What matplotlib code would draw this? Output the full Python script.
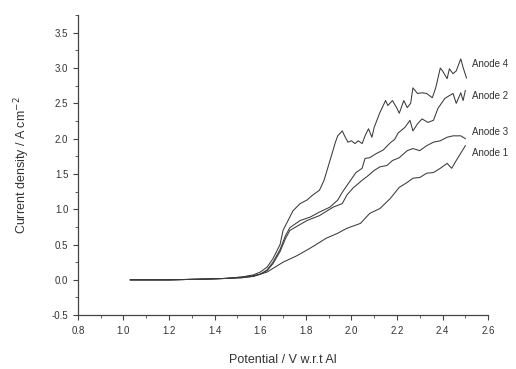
import matplotlib
matplotlib.use("Agg")
import matplotlib.pyplot as plt
from matplotlib.ticker import MultipleLocator

plt.rcParams['font.family'] = ['Liberation Sans', 'DejaVu Sans']

# Anode 1 (lowest curve)
a1_x = [1.03, 1.20, 1.35, 1.45, 1.52, 1.57, 1.60, 1.63, 1.66, 1.70, 1.76, 1.82, 1.89, 1.94,
        1.98, 2.04, 2.08, 2.125, 2.17, 2.21, 2.245, 2.27, 2.30, 2.33, 2.36, 2.39, 2.42,
        2.44, 2.46, 2.50]
a1_y = [0.00, 0.00, 0.01, 0.02, 0.04, 0.06, 0.08, 0.11, 0.17, 0.25, 0.34, 0.45, 0.59, 0.66,
        0.73, 0.80, 0.94, 1.01, 1.15, 1.31, 1.38, 1.44, 1.45, 1.51, 1.52, 1.58, 1.65,
        1.58, 1.69, 1.90]

# Anode 2
a2_x = [1.03, 1.20, 1.35, 1.45, 1.52, 1.57, 1.60, 1.63, 1.656, 1.687, 1.71, 1.73, 1.775, 1.82,
        1.86, 1.906, 1.94, 1.96, 1.99, 2.02, 2.047, 2.06, 2.08, 2.11, 2.14, 2.17, 2.19, 2.205,
        2.235, 2.257, 2.27, 2.29, 2.31, 2.336, 2.36, 2.38, 2.41, 2.43, 2.446, 2.46, 2.48,
        2.49, 2.50]
a2_y = [0.00, 0.00, 0.01, 0.02, 0.03, 0.05, 0.08, 0.14, 0.25, 0.43, 0.62, 0.74, 0.84, 0.89,
        0.96, 1.03, 1.13, 1.24, 1.38, 1.52, 1.58, 1.72, 1.73, 1.79, 1.84, 1.94, 1.99, 2.08,
        2.16, 2.26, 2.11, 2.21, 2.28, 2.23, 2.26, 2.43, 2.57, 2.61, 2.64, 2.50, 2.65,
        2.54, 2.68]

# Anode 3
a3_x = [1.03, 1.20, 1.35, 1.45, 1.52, 1.57, 1.60, 1.63, 1.656, 1.687, 1.71, 1.73, 1.805, 1.86,
        1.92, 1.96, 1.98, 2.007, 2.047, 2.075, 2.10, 2.125, 2.156, 2.18, 2.21, 2.245, 2.27,
        2.30, 2.33, 2.36, 2.39, 2.42, 2.446, 2.48, 2.50]
a3_y = [0.00, 0.00, 0.01, 0.02, 0.03, 0.05, 0.08, 0.13, 0.23, 0.40, 0.58, 0.70, 0.84, 0.91,
        1.03, 1.08, 1.20, 1.30, 1.41, 1.48, 1.55, 1.60, 1.62, 1.69, 1.73, 1.83, 1.86,
        1.83, 1.90, 1.95, 1.97, 2.02, 2.04, 2.04, 2.00]

# Anode 4 (highest curve)
a4_x = [1.03, 1.20, 1.35, 1.45, 1.52, 1.57, 1.60, 1.63, 1.656, 1.687, 1.70, 1.744, 1.775, 1.805,
        1.83, 1.86, 1.88, 1.906, 1.93, 1.94, 1.96, 1.97, 1.985, 2.0, 2.016, 2.03, 2.047, 2.06,
        2.075, 2.09, 2.10, 2.125, 2.15, 2.16, 2.18, 2.20, 2.21, 2.23, 2.245, 2.26, 2.27, 2.29,
        2.31, 2.33, 2.355, 2.37, 2.39, 2.40, 2.42, 2.43, 2.446, 2.46, 2.48, 2.49, 2.505]
a4_y = [0.00, 0.00, 0.01, 0.02, 0.04, 0.07, 0.11, 0.18, 0.30, 0.50, 0.70, 0.98, 1.08, 1.13,
        1.20, 1.27, 1.41, 1.69, 1.95, 2.04, 2.11, 2.04, 1.95, 1.97, 1.93, 1.97, 1.93, 2.04,
        2.14, 2.02, 2.16, 2.37, 2.54, 2.47, 2.54, 2.43, 2.36, 2.54, 2.44, 2.50, 2.72, 2.64,
        2.65, 2.64, 2.58, 2.72, 3.00, 2.96, 2.85, 2.99, 2.92, 2.96, 3.13, 3.01, 2.86]

labels = ["Anode 4", "Anode 2", "Anode 3", "Anode 1"]
label_y = [3.06, 2.61, 2.10, 1.79]

fig = plt.figure(figsize=(5.16, 3.69), dpi=100)
ax = fig.add_axes([0.151, 0.146, 0.795, 0.813])

line_color = '#3a3a3a'
for xs, ys in [(a1_x, a1_y), (a2_x, a2_y), (a3_x, a3_y), (a4_x, a4_y)]:
    ax.plot(xs, ys, color=line_color, lw=0.75)

for lab, ly in zip(labels, label_y):
    ax.text(2.53, ly, lab, fontsize=7, color='#333333', va='center', ha='left', clip_on=False)

ax.set_xlim(0.8, 2.6)
ax.set_ylim(-0.5, 3.75)
ax.xaxis.set_major_locator(MultipleLocator(0.2))
ax.xaxis.set_minor_locator(MultipleLocator(0.1))
ax.yaxis.set_major_locator(MultipleLocator(0.5))
ax.yaxis.set_minor_locator(MultipleLocator(0.25))
ax.xaxis.set_major_formatter(plt.FuncFormatter(lambda v, p: f"{v:.1f}"))
ax.yaxis.set_major_formatter(plt.FuncFormatter(lambda v, p: f"{v:.1f}"))

for s in ['top', 'right']:
    ax.spines[s].set_visible(False)
for s in ['left', 'bottom']:
    ax.spines[s].set_color('#444444')
    ax.spines[s].set_linewidth(0.9)

ax.tick_params(which='major', direction='out', length=3.5, width=0.8, colors='#444444',
               labelsize=7, labelcolor='#333333')
ax.tick_params(which='minor', direction='out', length=2, width=0.6, colors='#444444')
ax.tick_params(axis='x', pad=4)

ax.set_xlabel("Potential / V w.r.t Al", fontsize=9, color='#333333', labelpad=13)
ax.set_ylabel("Current density / A cm$^{-2}$", fontsize=9, color='#333333', labelpad=14)

fig.savefig("out.png", dpi=100)
